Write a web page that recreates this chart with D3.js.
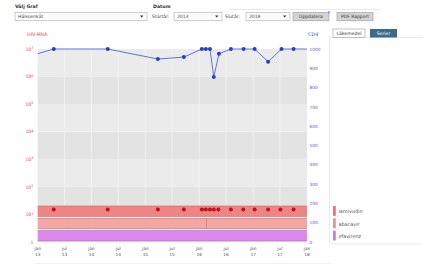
<!DOCTYPE html>
<html>
<head>
<meta charset="utf-8">
<script src="https://cdn.jsdelivr.net/npm/d3@7"></script>
<style>
body { margin: 0; background: #fff; overflow: hidden; }
</style>
</head>
<body>
<script>
// General settings
var W = 423, H = 266,
plot = {left: 37.7, right: 307, top: 49, bottom: 242},
font = {family: "DejaVu Sans, Verdana, sans-serif", size: 4.9},
col = {hiv: "#e8474f", cd4: "#4a68e0", cd4dot: "#2440c8", hivdot: "#c3101c",
       text: "#444", cd4axis: "#6a5cc4", bgA: "#ebebeb", bgB: "#e3e3e3", grid: "#f4f4f4"};

// Data
var cd4Dates = ["2012-02-01", "2013-04-20", "2014-04-21", "2015-03-27", "2015-09-19",
    "2016-01-19", "2016-02-15", "2016-03-14", "2016-04-09", "2016-05-14", "2016-08-03",
    "2016-10-28", "2017-01-11", "2017-04-12", "2017-07-12", "2017-10-02", "2018-03-01"];
var cd4Values = [900, 1000, 1000, 948, 958, 1000, 1000, 1000, 855, 975, 1000,
    1000, 1000, 934, 1000, 1000, 1000];

var hivDates = ["2013-04-20", "2014-04-21", "2015-03-27", "2015-09-19", "2016-01-19",
    "2016-02-15", "2016-03-14", "2016-04-09", "2016-05-10", "2016-08-03", "2016-10-26",
    "2017-01-11", "2017-04-12", "2017-07-05", "2017-10-02"];
var hivValues = [15, 15, 15, 15, 15, 15, 15, 15, 15, 15, 15, 15, 15, 15, 15];

var drugNames = ["lamivudin", "abacavir", "efavirenz"];
var drugColors = ["#f08484", "#f6a4a4", "#dc88ec"];
var periodDrug = ["lamivudin", "abacavir", "abacavir", "efavirenz"];
var periodStart = ["2012-06-01", "2012-06-01", "2016-02-19", "2012-06-01"];
var periodEnd = ["2018-06-01", "2016-02-19", "2018-06-01", "2018-06-01"];

var hivTicks = [1, 10, 100, 1000, 10000, 100000, 1000000, 10000000];
var hivExp = ["", "1", "2", "3", "4", "5", "6", "7"];
var cd4Ticks = [0, 100, 200, 300, 400, 500, 600, 700, 800, 900, 1000];
var xTickDates = ["2013-01-01", "2013-07-01", "2014-01-01", "2014-07-01", "2015-01-01",
    "2015-07-01", "2016-01-01", "2016-07-01", "2017-01-01", "2017-07-01", "2018-01-01"];
var xTickMonths = ["jan", "jul", "jan", "jul", "jan", "jul", "jan", "jul", "jan", "jul", "jan"];
var xTickYears = ["13", "13", "14", "14", "15", "15", "16", "16", "17", "17", "18"];

var parse = d3.timeParse("%Y-%m-%d");

var svg = d3.select("body")
    .append("svg")
        .attr("width", W)
        .attr("height", H)
        .style("display", "block")
        .attr("font-family", font.family)
        .attr("font-size", font.size);

// scales
var x = d3.scaleTime()
    .domain([parse(xTickDates[0]), parse(xTickDates[xTickDates.length - 1])])
    .range([plot.left, plot.right]);
var yHiv = d3.scaleLog()
    .domain([1, 1e7])
    .range([plot.bottom, plot.top]);
var yCd4 = d3.scaleLinear()
    .domain([0, 1000])
    .range([plot.bottom, plot.top]);
var yDrug = d3.scaleBand()
    .domain(drugNames)
    .range([206, 241])
    .paddingInner(0.16);

// form on top
function selectBox(x0, x1, label) {
    svg.append("rect")
        .attr("x", x0).attr("y", 12.5)
        .attr("width", x1 - x0).attr("height", 8)
        .attr("fill", "#fbfbfb")
        .attr("stroke", "#b0b0b0").attr("stroke-width", 0.6);
    svg.append("text")
        .attr("x", x0 + 3).attr("y", 18.3)
        .attr("font-size", 4.5)
        .attr("fill", "#4a4a4a")
        .text(label);
    svg.append("path")
        .attr("d", "M" + (x1 - 7) + ",15.4h3.4l-1.7,2z")
        .attr("fill", "#333");
}
function button(x0, x1, label) {
    svg.append("rect")
        .attr("x", x0).attr("y", 12.5)
        .attr("width", x1 - x0).attr("height", 8.3)
        .attr("fill", "#d4d4d4")
        .attr("stroke", "#999").attr("stroke-width", 0.6);
    svg.append("text")
        .attr("x", (x0 + x1) / 2).attr("y", 18.4)
        .attr("text-anchor", "middle")
        .attr("font-size", 4.5)
        .attr("fill", "#333")
        .text(label);
}

svg.append("line")
    .attr("x1", 230).attr("x2", 380).attr("y1", 9.5).attr("y2", 9.5)
    .attr("stroke", "#e4e4e4").attr("stroke-width", 0.8);
svg.append("text")
    .attr("x", 15).attr("y", 8)
    .attr("font-weight", "bold").attr("font-size", 4.7)
    .attr("fill", "#333")
    .text("Välj Graf");
svg.append("text")
    .attr("x", 153).attr("y", 8)
    .attr("font-weight", "bold").attr("font-size", 4.7)
    .attr("fill", "#333")
    .text("Datum");
selectBox(15, 147, "Hälsoenkät");
svg.append("text").attr("x", 152).attr("y", 18.3).attr("font-size", 4.6).attr("fill", "#444").text("Startår:");
selectBox(174, 222, "2013");
svg.append("text").attr("x", 225).attr("y", 18.3).attr("font-size", 4.6).attr("fill", "#444").text("Slutår:");
selectBox(246, 290, "2018");
button(293, 329, "Uppdatera");
button(337, 373, "PDF Rapport");
svg.append("text")
    .attr("x", 327.5).attr("y", 13.5)
    .attr("font-size", 4).attr("font-weight", "bold")
    .attr("fill", "#3a7fd8")
    .text("?");

// titles
svg.append("text")
    .attr("x", 27).attr("y", 35.5)
    .attr("fill", col.hiv)
    .text("HIV-RNA");
svg.append("text")
    .attr("x", 308).attr("y", 35.5)
    .attr("fill", "#3b55c8")
    .text("CD4");

// right panel with tabs
svg.append("rect")
    .attr("x", 329.5).attr("y", 37.5)
    .attr("width", 100).attr("height", 206.5)
    .attr("fill", "#fff")
    .attr("stroke", "#e2e2e2").attr("stroke-width", 0.7);
svg.append("rect")
    .attr("x", 333).attr("y", 29)
    .attr("width", 32).attr("height", 8.5)
    .attr("fill", "#fff")
    .attr("stroke", "#9a9a9a").attr("stroke-width", 0.6);
svg.append("text")
    .attr("x", 349).attr("y", 35.1).attr("text-anchor", "middle")
    .attr("font-size", 4.6).attr("fill", "#333")
    .text("Läkemedel");
svg.append("rect")
    .attr("x", 370).attr("y", 29)
    .attr("width", 27).attr("height", 8.5)
    .attr("fill", "#3c6a8c");
svg.append("text")
    .attr("x", 383.5).attr("y", 35.1).attr("text-anchor", "middle")
    .attr("font-size", 4.6).attr("fill", "#fff")
    .text("Serier");

// plot background, one band per decade
var decades = d3.range(0, 7);
svg.selectAll(".decade")
    .data(decades)
    .enter()
    .append("rect")
        .attr("class", "decade")
        .attr("x", plot.left)
        .attr("width", plot.right - plot.left)
        .attr("y", function(d) { return yHiv(Math.pow(10, d + 1)); })
        .attr("height", function(d) { return yHiv(Math.pow(10, d)) - yHiv(Math.pow(10, d + 1)); })
        .attr("fill", function(d) { return d % 2 ? col.bgB : col.bgA; });

svg.selectAll(".vgrid")
    .data(xTickDates.slice(1, -1))
    .enter()
    .append("line")
        .attr("class", "vgrid")
        .attr("x1", function(d) { return x(parse(d)); })
        .attr("x2", function(d) { return x(parse(d)); })
        .attr("y1", plot.top)
        .attr("y2", plot.bottom)
        .attr("stroke", col.grid)
        .attr("stroke-width", 0.8);

svg.append("defs").append("clipPath")
    .attr("id", "clip")
    .append("rect")
        .attr("x", plot.left)
        .attr("y", plot.top - 4)
        .attr("width", plot.right - plot.left)
        .attr("height", plot.bottom - plot.top + 8);

var inner = svg.append("g").attr("clip-path", "url(#clip)");

// drug rows
inner.selectAll(".drug")
    .data(periodDrug)
    .enter()
    .append("rect")
        .attr("class", "drug")
        .attr("x", function(d, i) { return x(parse(periodStart[i])); })
        .attr("width", function(d, i) { return x(parse(periodEnd[i])) - x(parse(periodStart[i])); })
        .attr("y", function(d) { return yDrug(d); })
        .attr("height", yDrug.bandwidth())
        .attr("fill", function(d) { return drugColors[drugNames.indexOf(d)]; })
        .attr("stroke", function(d) { return d3.color(drugColors[drugNames.indexOf(d)]).darker(0.9); })
        .attr("stroke-width", 0.5);

// CD4 line
var line = d3.line()
    .x(function(d, i) { return x(parse(cd4Dates[i])); })
    .y(function(d) { return yCd4(d); });
inner.append("path")
    .datum(cd4Values)
    .attr("d", line)
    .attr("fill", "none")
    .attr("stroke", col.cd4)
    .attr("stroke-width", 0.9);
inner.selectAll(".cd4dot")
    .data(cd4Values)
    .enter()
    .append("circle")
        .attr("class", "cd4dot")
        .attr("cx", function(d, i) { return x(parse(cd4Dates[i])); })
        .attr("cy", function(d) { return yCd4(d); })
        .attr("r", 2)
        .attr("fill", col.cd4dot);

// HIV-RNA dots
inner.selectAll(".hivdot")
    .data(hivValues)
    .enter()
    .append("circle")
        .attr("class", "hivdot")
        .attr("cx", function(d, i) { return x(parse(hivDates[i])); })
        .attr("cy", function(d) { return yHiv(d); })
        .attr("r", 2)
        .attr("fill", col.hivdot);

// left axis
var left = svg.selectAll(".hivtick")
    .data(hivTicks)
    .enter()
    .append("text")
        .attr("class", "hivtick")
        .attr("x", 33.5)
        .attr("y", function(d) { return yHiv(d) + 1.7; })
        .attr("text-anchor", "end")
        .attr("fill", col.hiv)
        .attr("font-size", 4.6);
left.append("tspan")
    .text(function(d, i) { return i === 0 ? "1" : "10"; });
left.append("tspan")
    .attr("dy", -1.6)
    .attr("font-size", 3.5)
    .text(function(d, i) { return hivExp[i]; });

// right axis
svg.selectAll(".cd4tick")
    .data(cd4Ticks)
    .enter()
    .append("text")
        .attr("class", "cd4tick")
        .attr("x", 309.5)
        .attr("y", function(d) { return yCd4(d) + 1.6; })
        .attr("fill", col.cd4axis)
        .attr("font-size", 4.3)
        .text(function(d) { return d; });

// x axis
var xt = svg.selectAll(".xtick")
    .data(xTickDates)
    .enter()
    .append("text")
        .attr("class", "xtick")
        .attr("text-anchor", "middle")
        .attr("fill", "#555")
        .attr("font-size", 4.3);
xt.append("tspan")
    .attr("x", function(d) { return x(parse(d)); })
    .attr("y", 249.5)
    .text(function(d, i) { return xTickMonths[i]; });
xt.append("tspan")
    .attr("x", function(d) { return x(parse(d)); })
    .attr("y", 256)
    .text(function(d, i) { return xTickYears[i]; });

svg.append("line")
    .attr("x1", 35).attr("x2", 330).attr("y1", 263.5).attr("y2", 263.5)
    .attr("stroke", "#ececec").attr("stroke-width", 0.8);

// legend
svg.selectAll(".legrect")
    .data(drugNames)
    .enter()
    .append("rect")
        .attr("class", "legrect")
        .attr("x", 333)
        .attr("y", function(d) { return yDrug(d); })
        .attr("width", 2.8)
        .attr("height", yDrug.bandwidth() - 0.5)
        .attr("fill", function(d, i) { return d3.color(drugColors[i]).darker(0.25); });
svg.selectAll(".legtext")
    .data(drugNames)
    .enter()
    .append("text")
        .attr("class", "legtext")
        .attr("x", 338.5)
        .attr("y", function(d) { return yDrug(d) + yDrug.bandwidth() / 2 + 2; })
        .attr("fill", "#555")
        .attr("font-size", 4.9)
        .text(function(d) { return d; });
</script>
</body>
</html>
